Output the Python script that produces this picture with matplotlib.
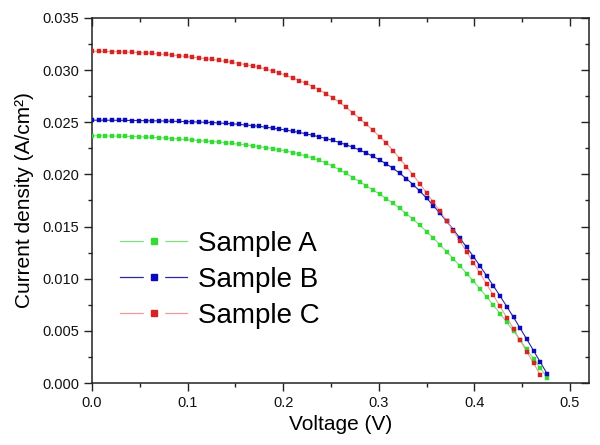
import matplotlib
matplotlib.use('Agg')
import matplotlib.pyplot as plt
from matplotlib.lines import Line2D
from matplotlib.legend_handler import HandlerTuple
from matplotlib.ticker import MultipleLocator, FormatStrFormatter

plt.rcParams['font.family'] = ['Liberation Sans', 'DejaVu Sans']

# voltage grid of the measured points (V)
voltage = [0.000, 0.007, 0.014, 0.021, 0.028, 0.035, 0.042, 0.049, 0.056, 0.063,
           0.070, 0.077, 0.084, 0.091, 0.098, 0.105, 0.112, 0.119, 0.126, 0.133,
           0.140, 0.147, 0.154, 0.161, 0.168, 0.175, 0.182, 0.189, 0.196, 0.203,
           0.210, 0.217, 0.224, 0.231, 0.238, 0.245, 0.252, 0.259, 0.266, 0.273,
           0.280, 0.287, 0.294, 0.301, 0.308, 0.315, 0.322, 0.329, 0.336, 0.343,
           0.350, 0.357, 0.364, 0.371, 0.378, 0.385, 0.392, 0.399, 0.406, 0.413,
           0.420, 0.427, 0.434, 0.441, 0.448, 0.455, 0.462, 0.469, 0.476]

# current density (A/cm2)
sample_a = [0.02370, 0.02370, 0.02369, 0.02368, 0.02367, 0.02365, 0.02363, 0.02361, 0.02358, 0.02355,
            0.02352, 0.02348, 0.02344, 0.02340, 0.02335, 0.02330, 0.02325, 0.02320, 0.02315, 0.02309,
            0.02303, 0.02297, 0.02290, 0.02283, 0.02275, 0.02266, 0.02257, 0.02247, 0.02236, 0.02224,
            0.02210, 0.02194, 0.02176, 0.02156, 0.02134, 0.02108, 0.02078, 0.02045, 0.02009, 0.01969,
            0.01931, 0.01891, 0.01851, 0.01810, 0.01768, 0.01722, 0.01674, 0.01623, 0.01569, 0.01512,
            0.01452, 0.01390, 0.01326, 0.01260, 0.01192, 0.01122, 0.01050, 0.00977, 0.00902, 0.00825,
            0.00746, 0.00665, 0.00582, 0.00497, 0.00410, 0.00322, 0.00233, 0.00143, 0.00052]

sample_b = [0.02520, 0.02520, 0.02520, 0.02519, 0.02519, 0.02518, 0.02517, 0.02516, 0.02515, 0.02514,
            0.02513, 0.02512, 0.02510, 0.02508, 0.02506, 0.02504, 0.02502, 0.02500, 0.02497, 0.02493,
            0.02489, 0.02485, 0.02480, 0.02474, 0.02468, 0.02461, 0.02453, 0.02444, 0.02435, 0.02425,
            0.02414, 0.02402, 0.02389, 0.02375, 0.02360, 0.02344, 0.02326, 0.02306, 0.02284, 0.02260,
            0.02234, 0.02205, 0.02173, 0.02138, 0.02100, 0.02058, 0.02011, 0.01959, 0.01902, 0.01840,
            0.01773, 0.01702, 0.01628, 0.01551, 0.01471, 0.01388, 0.01302, 0.01213, 0.01121, 0.01027,
            0.00931, 0.00833, 0.00733, 0.00630, 0.00525, 0.00418, 0.00310, 0.00201, 0.00091]

sample_c = [0.03180, 0.03180, 0.03179, 0.03178, 0.03176, 0.03174, 0.03171, 0.03168, 0.03164, 0.03160,
            0.03155, 0.03150, 0.03144, 0.03138, 0.03131, 0.03124, 0.03117, 0.03110, 0.03102, 0.03093,
            0.03084, 0.03074, 0.03063, 0.03052, 0.03040, 0.03026, 0.03010, 0.02992, 0.02972, 0.02950,
            0.02926, 0.02900, 0.02872, 0.02842, 0.02810, 0.02774, 0.02734, 0.02690, 0.02642, 0.02590,
            0.02536, 0.02480, 0.02422, 0.02362, 0.02300, 0.02228, 0.02152, 0.02074, 0.01994, 0.01910,
            0.01824, 0.01736, 0.01646, 0.01554, 0.01460, 0.01360, 0.01258, 0.01155, 0.01051, 0.00946,
            0.00840, 0.00734, 0.00627, 0.00519, 0.00409, 0.00299, 0.00189, 0.00079]

labels = ['Sample A', 'Sample B', 'Sample C']
series = [sample_a, sample_b, sample_c]
marker_colors = ['#35da35', '#0a0ab8', '#d42424']
line_colors = ['#7ee07e', '#2a2aa0', '#ec9a9a']

fig = plt.figure(figsize=(6, 4.45), dpi=100)
ax = fig.add_axes([0.1533, 0.1393, 0.8284, 0.8203])

handles = []
for ys, mc, lc in zip(series, marker_colors, line_colors):
    ax.plot(voltage[:len(ys)], ys, color=lc, lw=0.8, zorder=2)
    ax.plot(voltage[:len(ys)], ys, ls='none', marker='s', ms=3.4,
            mfc=mc, mec=mc, mew=0.3, zorder=3)
    h_line = Line2D([], [], color=lc, lw=0.9)
    h_gap = Line2D([], [], ls='none', marker='s', ms=15, mfc='white', mec='white')
    h_mark = Line2D([], [], ls='none', marker='s', ms=4, mfc=mc, mec=mc)
    handles.append((h_line, h_gap, h_mark))

ax.set_xlim(0, 0.52)
ax.set_ylim(0, 0.035)
ax.xaxis.set_major_locator(MultipleLocator(0.1))
ax.xaxis.set_minor_locator(MultipleLocator(0.05))
ax.yaxis.set_major_locator(MultipleLocator(0.005))
ax.yaxis.set_minor_locator(MultipleLocator(0.0025))
ax.xaxis.set_major_formatter(FormatStrFormatter('%.1f'))
ax.yaxis.set_major_formatter(FormatStrFormatter('%.3f'))

for s in ax.spines.values():
    s.set_linewidth(1.1)
    s.set_color('#222222')
ax.tick_params(which='both', direction='out', color='#222222', width=1.0,
               labelsize=10.5, labelcolor='#111111')
ax.tick_params(which='major', length=5.5)
ax.tick_params(which='minor', length=3)
# mirror ticks on top/right pointing inside
ax.tick_params(which='both', top=True, right=True)
for tk in ax.xaxis.get_major_ticks() + ax.xaxis.get_minor_ticks():
    tk.tick2line.set_marker(3)
for tk in ax.yaxis.get_major_ticks() + ax.yaxis.get_minor_ticks():
    tk.tick2line.set_marker(0)

ax.set_xlabel('Voltage (V)', fontsize=15, labelpad=4)
ax.set_ylabel('Current density (A/cm²)', fontsize=15, labelpad=6)

ax.legend(handles, labels, handler_map={tuple: HandlerTuple(ndivide=1)},
          loc='upper left', bbox_to_anchor=(0.035, 0.447), frameon=False,
          fontsize=20, handlelength=2.4, handletextpad=0.4,
          labelspacing=0.36, borderaxespad=0)

fig.savefig('out.png', dpi=100)
